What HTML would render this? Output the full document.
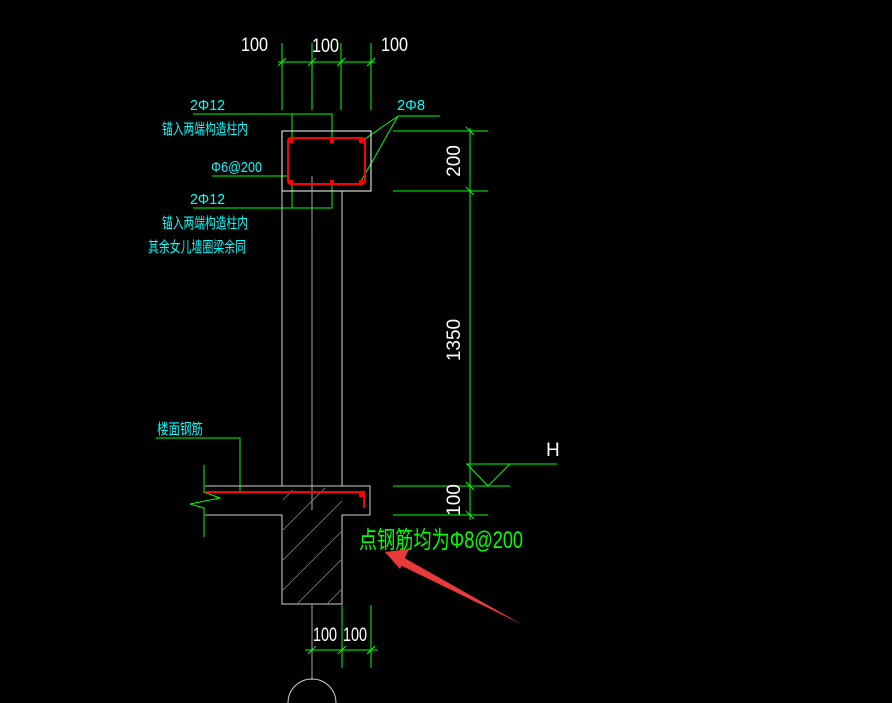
<!DOCTYPE html>
<html><head><meta charset="utf-8"><style>
html,body{margin:0;padding:0;background:#000;width:892px;height:703px;overflow:hidden}
svg{display:block}
.c{fill:#00ffff;font-family:"Liberation Sans","Noto Sans CJK SC",sans-serif;font-size:15px}
.w{fill:#fff;font-family:"Liberation Sans",sans-serif;font-size:19px}
</style></head><body>
<svg width="892" height="703" viewBox="0 0 892 703" xmlns="http://www.w3.org/2000/svg">
<g stroke="#00ff00" stroke-width="1" fill="none">
<line x1="278" y1="62" x2="375" y2="62"/>
<line x1="282" y1="43" x2="282" y2="110"/>
<line x1="312" y1="43" x2="312" y2="110"/>
<line x1="341" y1="43" x2="341" y2="110"/>
<line x1="371" y1="43" x2="371" y2="110"/>
<line x1="278" y1="66" x2="286" y2="58"/><line x1="308" y1="66" x2="316" y2="58"/>
<line x1="337" y1="66" x2="345" y2="58"/><line x1="367" y1="66" x2="375" y2="58"/>
<polyline points="193,114 332,114 332,140"/>
<line x1="292" y1="114" x2="292" y2="140"/>
<polyline points="193,208 332,208 332,183"/>
<line x1="292" y1="208" x2="292" y2="183"/>
<line x1="212" y1="176" x2="288" y2="176"/>
<line x1="398" y1="116" x2="440" y2="116"/>
<line x1="398" y1="116" x2="362" y2="141"/>
<line x1="398" y1="116" x2="360" y2="183"/>
<line x1="470" y1="128" x2="470" y2="520"/>
<line x1="393" y1="131" x2="488" y2="131"/>
<line x1="393" y1="191" x2="488" y2="191"/>
<line x1="393" y1="486" x2="510" y2="486"/>
<line x1="393" y1="515" x2="488" y2="515"/>
<line x1="466" y1="464" x2="557" y2="464"/>
<polyline points="467,464 488,486 510,464"/>
<line x1="466" y1="127" x2="474" y2="135"/><line x1="466" y1="187" x2="474" y2="195"/>
<line x1="466" y1="482" x2="474" y2="490"/><line x1="466" y1="511" x2="474" y2="519"/>
<polyline points="156,438 240,438 240,492"/>
<polyline points="204,465 204,492 220,498 190,504 204,508 204,537"/>
<line x1="305" y1="650" x2="378" y2="650"/>
<line x1="342" y1="605" x2="342" y2="668"/>
<line x1="371" y1="605" x2="371" y2="668"/>
<line x1="308" y1="654" x2="316" y2="646"/><line x1="338" y1="654" x2="346" y2="646"/><line x1="367" y1="654" x2="375" y2="646"/>
</g>
<g stroke="#d0d0d0" stroke-width="1" fill="none">
<rect x="282" y="131" width="89" height="60" stroke="#fff"/>
<line x1="282" y1="191" x2="282" y2="486"/>
<line x1="342" y1="191" x2="342" y2="486"/>
<line x1="312" y1="176" x2="312" y2="510" stroke="#aaa"/>
<polyline points="205,486 370,486 370,515 342,515 342,604 282,604 282,515 205,515"/>
<line x1="312" y1="604" x2="312" y2="680" stroke="#aaa"/>
<path d="M288,703 A24,24 0 0 1 336,703"/>
</g>
<g stroke="#888" stroke-width="0.8">
<line x1="283" y1="500" x2="293" y2="490"/><line x1="283" y1="530" x2="325" y2="488"/>
<line x1="283" y1="560" x2="342" y2="501"/><line x1="283" y1="590" x2="342" y2="531"/>
<line x1="297" y1="604" x2="342" y2="559"/><line x1="327" y1="604" x2="342" y2="589"/>
</g>
<g stroke="#ff0000" stroke-width="2" fill="none">
<rect x="288" y="138" width="77" height="46" rx="3"/>
<polyline points="206,492 364,492 364,508"/>
</g>
<g fill="#ff0000">
<rect x="289" y="139" width="4" height="4"/><rect x="330" y="139" width="4" height="4"/><rect x="359" y="139" width="4" height="4"/>
<rect x="289" y="180" width="4" height="4"/><rect x="330" y="180" width="4" height="4"/><rect x="359" y="180" width="4" height="4"/>
<rect x="359" y="493" width="4" height="4"/>
</g>
<text class="w" x="241" y="51" textLength="27" lengthAdjust="spacingAndGlyphs">100</text>
<text class="w" x="312" y="52" textLength="27" lengthAdjust="spacingAndGlyphs">100</text>
<text class="w" x="381" y="51" textLength="27" lengthAdjust="spacingAndGlyphs">100</text>
<text class="w" x="313" y="641" textLength="24" lengthAdjust="spacingAndGlyphs">100</text>
<text class="w" x="343" y="641" textLength="24" lengthAdjust="spacingAndGlyphs">100</text>
<text class="w" x="546" y="456">H</text>
<text class="w" transform="translate(460,161) rotate(-90)" text-anchor="middle">200</text>
<text class="w" transform="translate(460,340) rotate(-90)" text-anchor="middle">1350</text>
<text class="w" transform="translate(460,500) rotate(-90)" text-anchor="middle">100</text>
<text class="c" x="190" y="110" textLength="35" lengthAdjust="spacingAndGlyphs">2Φ12</text>
<text class="c" x="162" y="134" textLength="86" lengthAdjust="spacingAndGlyphs">锚入两端构造柱内</text>
<text class="c" x="211" y="172" textLength="51" lengthAdjust="spacingAndGlyphs">Φ6@200</text>
<text class="c" x="190" y="204" textLength="35" lengthAdjust="spacingAndGlyphs">2Φ12</text>
<text class="c" x="162" y="228" textLength="86" lengthAdjust="spacingAndGlyphs">锚入两端构造柱内</text>
<text class="c" x="148" y="252" textLength="98" lengthAdjust="spacingAndGlyphs">其余女儿墙圈梁余同</text>
<text class="c" x="397" y="110" textLength="28" lengthAdjust="spacingAndGlyphs">2Φ8</text>
<text class="c" x="157" y="434" textLength="46" lengthAdjust="spacingAndGlyphs">楼面钢筋</text>
<text x="359" y="548" fill="#00ff00" font-family="Liberation Sans,'Noto Sans CJK SC',sans-serif" font-size="24" textLength="164" lengthAdjust="spacingAndGlyphs">点钢筋均为Φ8@200</text>
<polygon points="523,625 401,556 398,564" fill="#e83a3a"/>
<polygon points="385,552 409,549 400,569" fill="#e83a3a"/>
</svg>
</body></html>
